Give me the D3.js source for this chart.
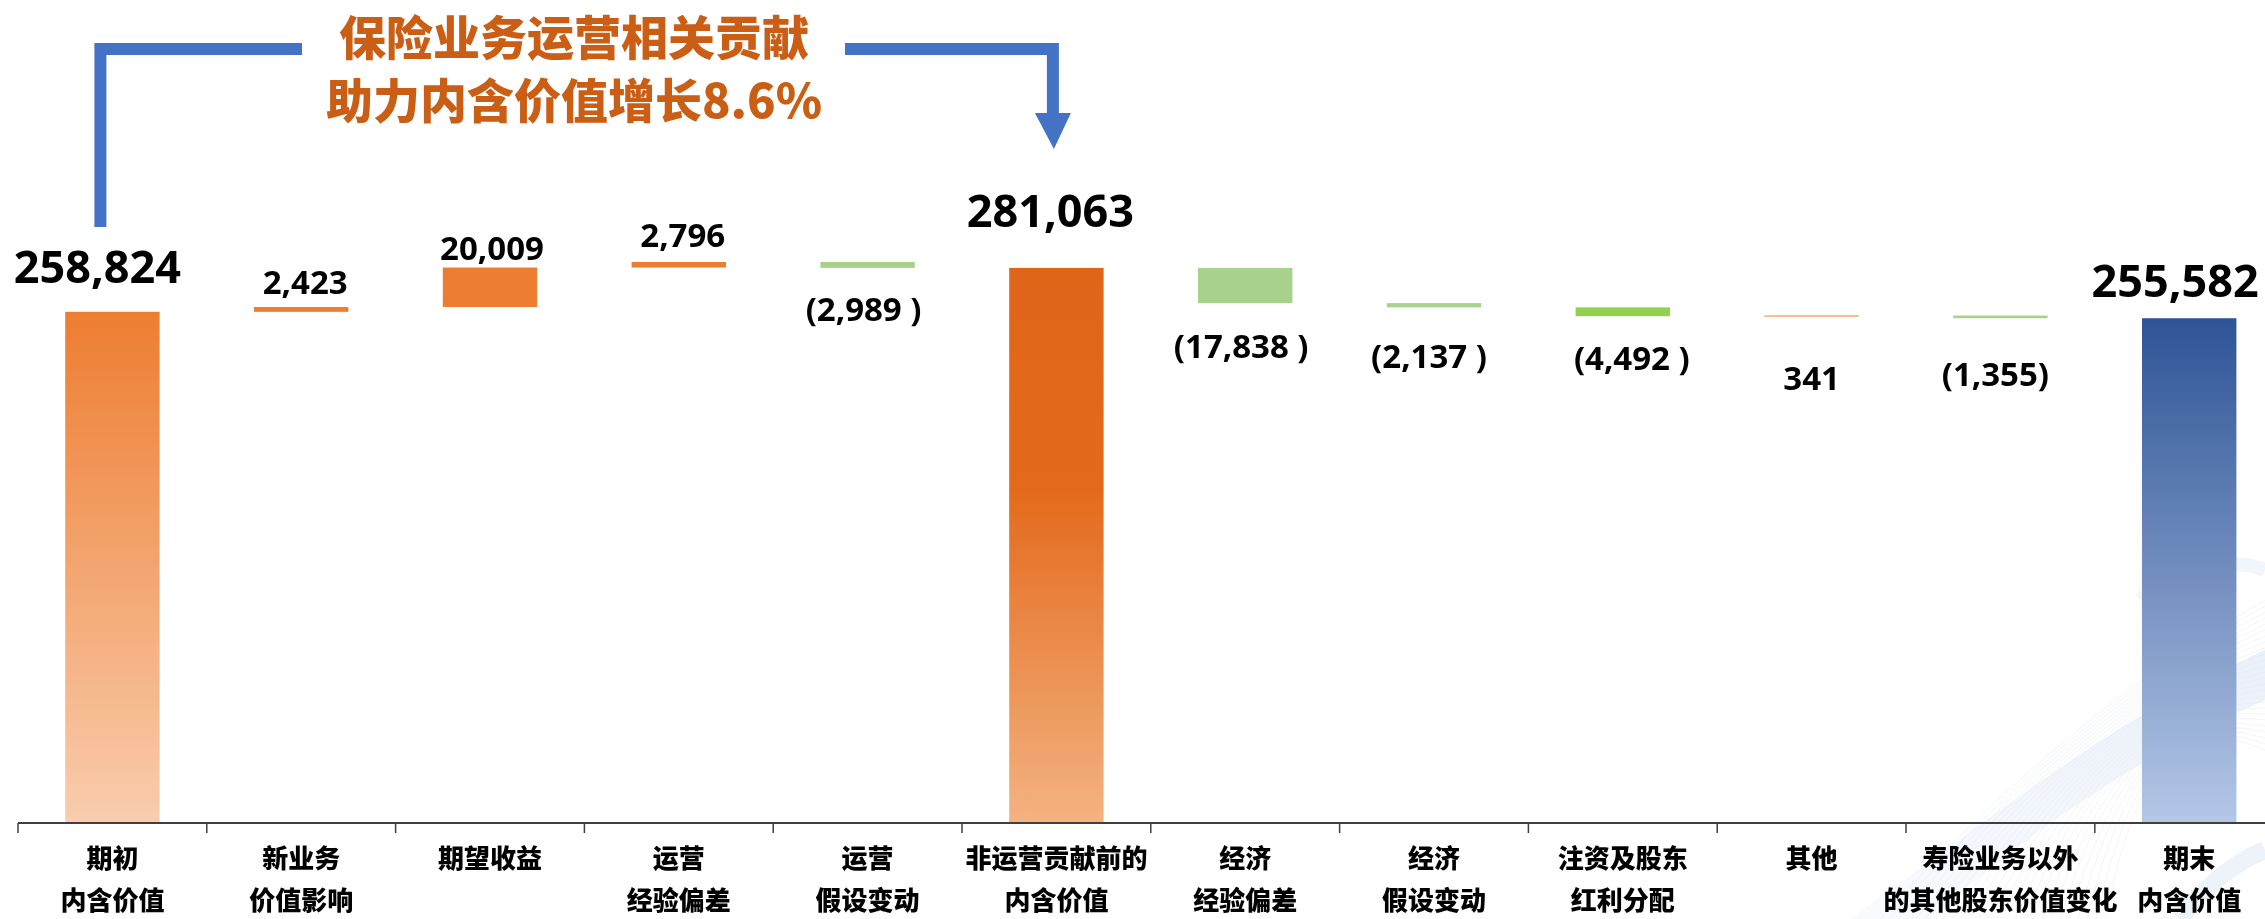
<!DOCTYPE html>
<html>
<head>
<meta charset="utf-8">
<script src="https://cdn.jsdelivr.net/npm/d3@7"></script>
<style>
  html, body { margin: 0; padding: 0; background: #ffffff; }
  svg { display: block; }
  .cjk { font-family: "Noto Sans CJK SC", "Noto Sans", sans-serif; font-weight: 900; }
  .num { font-family: "Open Sans", "Noto Sans", sans-serif; font-weight: 700; }
</style>
</head>
<body>
<svg id="chart" width="2265" height="919"></svg>
<script>
// Embedded value bridge (RMB million)
const categories = ["期初内含价值", "新业务价值影响", "期望收益", "运营经验偏差", "运营假设变动",
  "非运营贡献前的内含价值", "经济经验偏差", "经济假设变动", "注资及股东红利分配", "其他",
  "寿险业务以外的其他股东价值变化", "期末内含价值"];
const labelLine1 = ["期初", "新业务", "期望收益", "运营", "运营", "非运营贡献前的", "经济", "经济", "注资及股东", "其他", "寿险业务以外", "期末"];
const labelLine2 = ["内含价值", "价值影响", "", "经验偏差", "假设变动", "内含价值", "经验偏差", "假设变动", "红利分配", "", "的其他股东价值变化", "内含价值"];
const values = [258824, 2423, 20009, 2796, -2989, 281063, -17838, -2137, -4492, 341, -1355, 255582];
const barKind = ["total", "delta", "delta", "delta", "delta", "total", "delta", "delta", "delta", "delta", "delta", "total"];
const valueText = ["258,824", "2,423", "20,009", "2,796", "(2,989 )", "281,063", "(17,838 )", "(2,137 )", "(4,492 )", "341", "(1,355)", "255,582"];
const titleLines = ["保险业务运营相关贡献", "助力内含价值增长8.6%"];

// fills and label nudges
const fills = ["url(#gStart)", "#ED7D31", "#ED7D31", "#ED7D31", "#A9D18E", "url(#gMid)",
  "#A9D18E", "#A9D18E", "#92D050", "#ED7D31", "#A9D18E", "url(#gEnd)"];
const labelNudge = [[-15, 0], [4, 0], [2, 5], [4, -2], [-4, -1], [-6, -12], [-4, 1], [-5, 7], [9, 0], [0, 20], [-5, 14], [-14, 8]];

const W = 2265, H = 919;
const svg = d3.select("#chart");
const defs = svg.append("defs");

function vGrad(id, stops) {
  const g = defs.append("linearGradient").attr("id", id).attr("x1", 0).attr("y1", 0).attr("x2", 0).attr("y2", 1);
  stops.forEach(s => g.append("stop").attr("offset", s[0]).attr("stop-color", s[1]));
}
vGrad("gStart", [[0, "#ED7D31"], [1, "#F9CDAE"]]);
vGrad("gMid", [[0, "#E0651A"], [0.4, "#E36A1C"], [1, "#F3B382"]]);
vGrad("gEnd", [[0, "#2E5496"], [1, "#B4C7E7"]]);
vGrad("gSwoosh", [[0, "#e4ecf7"], [1, "#f7f9fd"]]);

// decorative backdrop in the lower right corner
const deco = svg.append("g").attr("opacity", 0.75);
deco.append("path")
  .attr("d", "M1850,919 C1990,820 2110,720 2265,650 L2265,700 C2130,760 2020,840 1930,919 Z")
  .attr("fill", "url(#gSwoosh)");
for (let i = 0; i < 26; i++) {
  deco.append("path")
    .attr("d", `M${1880 + i * 9},919 C${1990 + i * 6},${800 - i * 2} ${2110 + i * 3},${690 + i} 2265,${600 + i * 6}`)
    .attr("fill", "none").attr("stroke", "#dbe4f2").attr("stroke-width", 1).attr("opacity", 0.5);
}
deco.append("path")
  .attr("d", "M2140,600 C2190,560 2240,560 2265,570")
  .attr("fill", "none").attr("stroke", "#e6eef8").attr("stroke-width", 14).attr("opacity", 0.7);
deco.append("path")
  .attr("d", "M2180,919 C2210,880 2240,860 2265,850")
  .attr("fill", "none").attr("stroke", "#dfe8f5").attr("stroke-width", 18).attr("opacity", 0.7);

// scales
const x = d3.scaleBand().domain(categories).range([18, 2283.6]).paddingInner(0.5).paddingOuter(0.25);
const y = d3.scaleLinear().domain([0, 400000]).range([823, 33]);
const bw = x.bandwidth();
const step = x.step();

// waterfall layout
let running = 0;
const bars = values.map((v, i) => {
  let lo, hi;
  if (barKind[i] === "total") { lo = 0; hi = v; running = v; }
  else { const s = running; running += v; lo = Math.min(s, running); hi = Math.max(s, running); }
  return { cat: categories[i], v, lo, hi, kind: barKind[i], i };
});

svg.append("g").selectAll("rect").data(bars).join("rect")
  .attr("x", d => x(d.cat))
  .attr("width", bw)
  .attr("y", d => y(d.hi))
  .attr("height", d => Math.max(1, y(d.lo) - y(d.hi)))
  .attr("fill", d => fills[d.i]);

// axis baseline with ticks at the band boundaries
const axisY = y(0);
const axis = svg.append("g");
axis.append("line").attr("x1", 18).attr("x2", W).attr("y1", axisY).attr("y2", axisY)
  .attr("stroke", "#3f3f3f").attr("stroke-width", 2);
const bounds = categories.map(c => x(c) + bw / 2 - step / 2);
axis.selectAll("line.tick").data(bounds).join("line").attr("class", "tick")
  .attr("x1", d => d).attr("x2", d => d).attr("y1", axisY).attr("y2", axisY + 10)
  .attr("stroke", "#3f3f3f").attr("stroke-width", 1.5);

// category labels
const catG = svg.append("g").attr("class", "cjk").attr("font-size", 26).attr("fill", "#000").attr("text-anchor", "middle");
catG.selectAll("text.l1").data(bars).join("text").attr("class", "l1")
  .attr("x", d => x(d.cat) + bw / 2).attr("y", 868).text(d => labelLine1[d.i]);
catG.selectAll("text.l2").data(bars).join("text").attr("class", "l2")
  .attr("x", d => x(d.cat) + bw / 2).attr("y", 910).text(d => labelLine2[d.i]);

// value labels
svg.append("g").attr("class", "num").attr("fill", "#000").attr("text-anchor", "middle")
  .selectAll("text").data(bars).join("text")
  .attr("font-size", d => d.kind === "total" ? 45 : 33)
  .attr("x", d => x(d.cat) + bw / 2 + labelNudge[d.i][0])
  .attr("y", d => {
    let base;
    if (d.kind === "total") base = y(d.hi) - 29;
    else if (d.v > 0 && d.i < 5) base = y(d.hi) - 13;
    else base = y(d.lo) + 54;
    return base + labelNudge[d.i][1];
  })
  .text(d => valueText[d.i]);

// bracket arrow from the opening value to the pre-non-operating value
const blue = "#4472C4";
const leftX = x(categories[0]) + bw / 2 - 12;
const rightX = x(categories[5]) + bw / 2 - 3.5;
const topY = 49;
const ann = svg.append("g");
ann.append("path")
  .attr("d", `M${leftX},227 L${leftX},${topY} L302,${topY}`)
  .attr("fill", "none").attr("stroke", blue).attr("stroke-width", 12).attr("stroke-linejoin", "miter");
ann.append("path")
  .attr("d", `M845,${topY} L${rightX},${topY} L${rightX},115`)
  .attr("fill", "none").attr("stroke", blue).attr("stroke-width", 12).attr("stroke-linejoin", "miter");
ann.append("path")
  .attr("d", `M${rightX - 18},113 L${rightX + 18},113 L${rightX + 1},149 Z`)
  .attr("fill", blue);

// headline
svg.append("g").attr("class", "cjk").attr("fill", "#C95E14").attr("font-size", 47).attr("text-anchor", "middle")
  .selectAll("text").data(titleLines).join("text")
  .attr("x", 574).attr("y", (d, i) => 55 + i * 63).text(d => d);
</script>
</body>
</html>
